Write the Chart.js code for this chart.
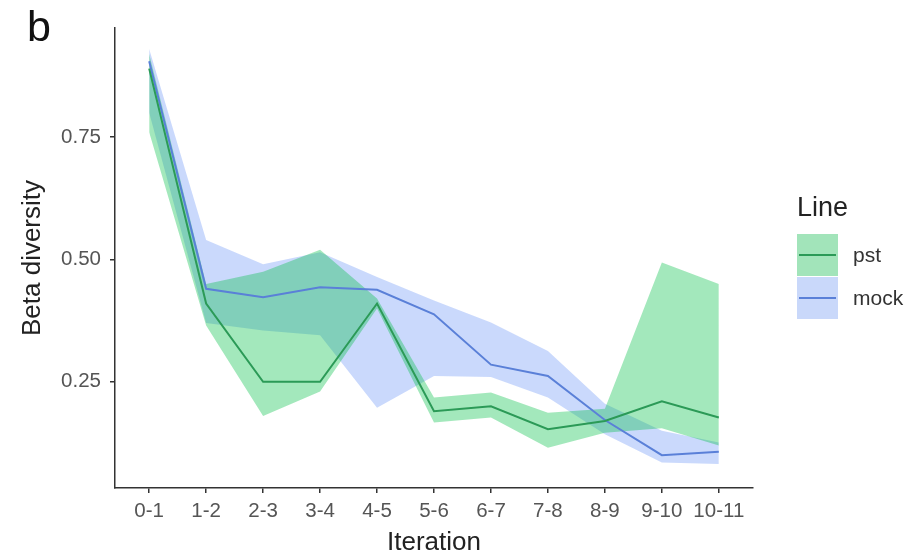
<!DOCTYPE html>
<html>
<head>
<meta charset="utf-8">
<script src="https://cdn.jsdelivr.net/npm/chart.js@4"></script>
<style>
  body { margin: 0; background: #fff; font-family: "Liberation Sans", Arial, sans-serif; }
  #wrap { position: relative; width: 918px; height: 558px; }
  #panel { position: absolute; left: 27px; top: 2px; font-size: 43px; color: #111; }
  #legend { position: absolute; left: 797px; top: 192px; color: #333; }
  #legend .title { font-size: 27px; color: #222; margin-bottom: 10px; }
  #legend .row { display: flex; align-items: center; height: 43px; }
  #legend .key { position: relative; width: 41px; height: 42px; margin-right: 15px; }
  #legend .key span { position: absolute; left: 2px; right: 2px; top: 20px; height: 2px; }
  #legend .lbl { font-size: 21px; }
</style>
</head>
<body>
<div id="wrap">
  <canvas id="c" width="918" height="558"></canvas>
  <div id="panel">b</div>
  <div id="legend"></div>
</div>
<script>
/* Beta diversity per iteration, mean line + ribbon for each line */

const labels = ["0-1", "1-2", "2-3", "3-4", "4-5", "5-6", "6-7", "7-8", "8-9", "9-10", "10-11"];

const pstMean = [0.89, 0.41, 0.25, 0.25, 0.41, 0.19, 0.20, 0.153, 0.17, 0.21, 0.177];
const pstLow  = [0.76, 0.365, 0.18, 0.23, 0.40, 0.167, 0.177, 0.115, 0.146, 0.155, 0.12];
const pstHigh = [0.92, 0.45, 0.475, 0.52, 0.42, 0.218, 0.228, 0.187, 0.195, 0.494, 0.45];

const mockMean = [0.905, 0.44, 0.423, 0.443, 0.438, 0.388, 0.285, 0.262, 0.172, 0.10, 0.107];
const mockLow  = [0.80, 0.37, 0.355, 0.345, 0.197, 0.262, 0.26, 0.218, 0.143, 0.085, 0.082];
const mockHigh = [0.93, 0.54, 0.49, 0.515, 0.464, 0.416, 0.371, 0.313, 0.205, 0.15, 0.126];

const yTicks = [0.25, 0.50, 0.75];

const series = [
  { name: "pst", mean: pstMean, low: pstLow, high: pstHigh, line: "#2b9a57", fill: "rgba(0,190,70,0.36)", key: "#a2e4ba" },
  { name: "mock", mean: mockMean, low: mockLow, high: mockHigh, line: "#5a80d8", fill: "rgba(80,130,245,0.3)", key: "#c9d8fa" },
];

function pts(arr) { return arr.map((v, i) => ({ x: i, y: v })); }

const FONT = "'Liberation Sans', Arial, sans-serif";
const AXIS = "#333";

const datasets = [];
for (const s of series) {
  datasets.push({ label: s.name + " low", data: pts(s.low), borderWidth: 0, pointRadius: 0, fill: false, tension: 0 });
  datasets.push({ label: s.name + " high", data: pts(s.high), borderWidth: 0, pointRadius: 0, fill: "-1", backgroundColor: s.fill, tension: 0 });
}
for (const s of series) {
  datasets.push({ label: s.name, data: pts(s.mean), borderColor: s.line, borderWidth: 2, pointRadius: 0, fill: false, tension: 0 });
}

new Chart(document.getElementById("c"), {
  type: "line",
  data: { datasets },
  options: {
    responsive: false,
    animation: false,
    layout: { padding: { top: 28, right: 165, bottom: 0, left: 0 } },
    plugins: {
      legend: { display: false },
      tooltip: { enabled: false },
      filler: { drawTime: "beforeDatasetsDraw" },
    },
    scales: {
      x: {
        type: "linear",
        min: -0.6, max: 10.6,
        afterBuildTicks: (s) => { s.ticks = labels.map((_, i) => ({ value: i })); },
        afterFit: (s) => { s.height = 70; },
        ticks: {
          autoSkip: false, maxRotation: 0, padding: 6,
          color: "#555", font: { family: FONT, size: 20.5 },
          callback: (v) => labels[v],
        },
        grid: { drawOnChartArea: false, drawTicks: true, tickLength: 5, color: AXIS, lineWidth: 1.5 },
        border: { display: true, color: AXIS, width: 1.5 },
        title: { display: true, text: "Iteration", color: "#222", font: { family: FONT, size: 26, lineHeight: 1.1 }, padding: { top: 0, bottom: 1 } },
      },
      y: {
        min: 0.033, max: 0.973,
        afterBuildTicks: (s) => { s.ticks = yTicks.map((v) => ({ value: v })); },
        afterFit: (s) => { s.width = 115; },
        ticks: {
          padding: 9, color: "#555", font: { family: FONT, size: 20.5 },
          callback: (v) => v.toFixed(2),
        },
        grid: { drawOnChartArea: false, drawTicks: true, tickLength: 5, color: AXIS, lineWidth: 1.5 },
        border: { display: true, color: AXIS, width: 1.5 },
        title: { display: true, text: "Beta diversity", color: "#222", font: { family: FONT, size: 26, lineHeight: 1.1 }, padding: { top: 19, bottom: 0 } },
      },
    },
  },
});

/* legend, drawn as html */
const lg = document.getElementById("legend");
lg.innerHTML = '<div class="title">Line</div>' + series.map((s) =>
  `<div class="row"><div class="key" style="background:${s.key}"><span style="background:${s.line}"></span></div><div class="lbl">${s.name}</div></div>`
).join("");
</script>
</body>
</html>
